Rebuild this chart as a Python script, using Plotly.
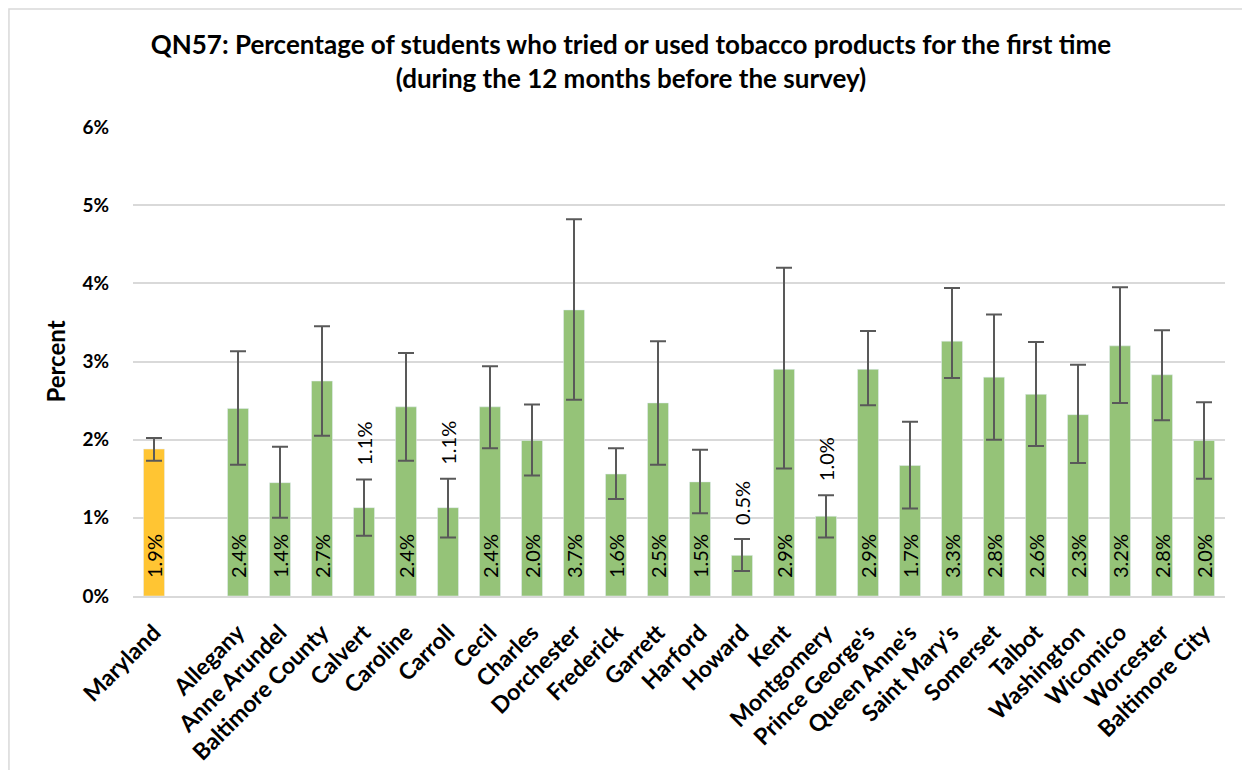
import plotly.graph_objects as go

# ---- data ----
state = "Maryland"
state_value = 1.88
state_lower = 1.73
state_upper = 2.02

counties = ["Allegany", "Anne Arundel", "Baltimore County", "Calvert", "Caroline",
            "Carroll", "Cecil", "Charles", "Dorchester", "Frederick", "Garrett",
            "Harford", "Howard", "Kent", "Montgomery", "Prince George's",
            "Queen Anne's", "Saint Mary's", "Somerset", "Talbot", "Washington",
            "Wicomico", "Worcester", "Baltimore City"]
values = [2.40, 1.45, 2.75, 1.13, 2.42, 1.13, 2.42, 1.99, 3.66, 1.56, 2.47, 1.46,
          0.52, 2.90, 1.02, 2.90, 1.67, 3.26, 2.80, 2.58, 2.32, 3.20, 2.83, 1.99]
lower = [1.68, 1.00, 2.05, 0.77, 1.73, 0.75, 1.89, 1.54, 2.51, 1.24, 1.68, 1.06,
         0.32, 1.63, 0.75, 2.44, 1.12, 2.79, 2.00, 1.92, 1.70, 2.47, 2.25, 1.50]
upper = [3.13, 1.91, 3.45, 1.49, 3.11, 1.50, 2.94, 2.45, 4.82, 1.89, 3.26, 1.87,
         0.73, 4.20, 1.29, 3.39, 2.23, 3.94, 3.60, 3.25, 2.96, 3.95, 3.40, 2.48]
labels = ["2.4%", "1.4%", "2.7%", "1.1%", "2.4%", "1.1%", "2.4%", "2.0%", "3.7%",
          "1.6%", "2.5%", "1.5%", "0.5%", "2.9%", "1.0%", "2.9%", "1.7%", "3.3%",
          "2.8%", "2.6%", "2.3%", "3.2%", "2.8%", "2.0%"]
state_label = "1.9%"
small_bars = {"Calvert", "Carroll", "Howard", "Montgomery"}

y_ticks = [0, 1, 2, 3, 4, 5, 6]
y_tick_text = ["0%", "1%", "2%", "3%", "4%", "5%", "6%"]

FONT = "Lato"
GOLD = "#FFC533"
GREEN = "#95C378"
ERR = "#595959"

# positions: state at 0, a blank slot, counties from 2
state_x = [0]
county_x = [i + 2 for i in range(len(counties))]

fig = go.Figure()
fig.add_trace(go.Bar(
    x=state_x, y=[state_value], marker_color=GOLD, width=0.5,
    error_y=dict(type="data", symmetric=False,
                 array=[state_upper - state_value],
                 arrayminus=[state_value - state_lower],
                 color=ERR, thickness=2, width=8),
    showlegend=False, hoverinfo="skip"))
fig.add_trace(go.Bar(
    x=county_x, y=values, marker_color=GREEN, width=0.5,
    error_y=dict(type="data", symmetric=False,
                 array=[u - v for u, v in zip(upper, values)],
                 arrayminus=[v - l for v, l in zip(values, lower)],
                 color=ERR, thickness=2, width=8),
    showlegend=False, hoverinfo="skip"))

annotations = []
def add_label(x, txt, inside, top):
    annotations.append(dict(x=x, y=0 if inside else top, xref="x", yref="y", text=txt,
                            textangle=-90, showarrow=False, yanchor="bottom",
                            xanchor="center", yshift=16 if inside else 12,
                            font=dict(family=FONT, size=20, color="#000000")))

add_label(state_x[0], state_label, True, state_upper)
for name, x, txt, up in zip(counties, county_x, labels, upper):
    add_label(x, txt, name not in small_bars, up)

fig.update_layout(
    width=1242, height=762,
    margin=dict(l=125, r=25, t=119, b=174, autoexpand=False),
    paper_bgcolor="white", plot_bgcolor="white",
    font=dict(family=FONT, color="#000000"),
    title=dict(text="<b>QN57: Percentage of students who tried or used tobacco products for the first time<br>(during the 12 months before the survey)</b>",
               x=0.5016, xanchor="center", y=0.94, yanchor="top",
               font=dict(family=FONT, size=26, color="#000000")),
    annotations=annotations,
    shapes=[dict(type="rect", xref="paper", yref="paper",
                 x0=-0.1136, x1=1.0165, y0=-0.40, y1=1.2516,
                 line=dict(color="#D9D9D9", width=1.5), fillcolor="rgba(0,0,0,0)",
                 layer="below")],
)
fig.update_xaxes(
    range=[-0.5, len(counties) + 1.5], automargin=False,
    tickmode="array", tickvals=state_x + county_x, ticktext=[state] + counties,
    tickangle=-45, tickfont=dict(family=FONT, size=23, color="#000000", weight="bold"),
    showgrid=False, zeroline=False, showline=True, linecolor="#D9D9D9", linewidth=2,
    ticks="", ticklabelstandoff=12)
fig.update_yaxes(
    range=[0, 6], tickmode="array", tickvals=y_ticks, ticktext=y_tick_text,
    automargin=False,
    tickfont=dict(family=FONT, size=19, color="#000000", weight="bold"),
    showgrid=True, gridcolor="#D9D9D9", gridwidth=1.5, zeroline=False,
    showline=False, ticks="", ticklabelstandoff=23,
    title=dict(text="<b>Percent</b>", font=dict(family=FONT, size=24, color="#000000"),
               standoff=10))

fig.write_html("out.html")
